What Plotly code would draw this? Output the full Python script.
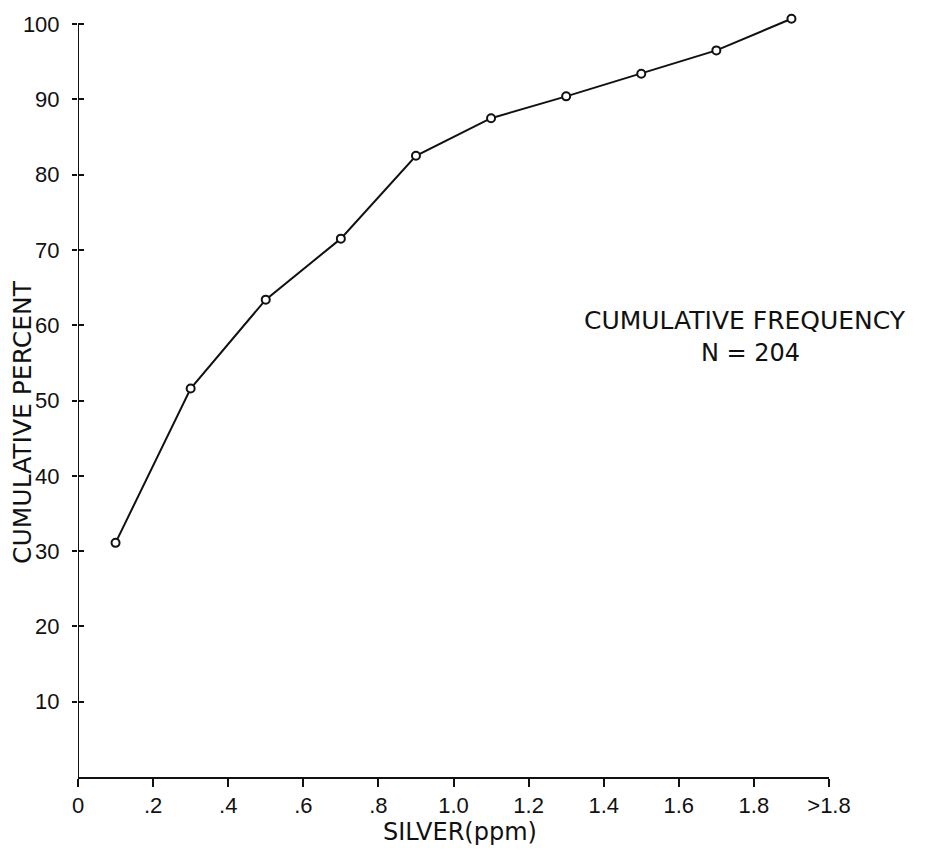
import plotly.graph_objects as go

# Data
silver_ppm = [0.1, 0.3, 0.5, 0.7, 0.9, 1.1, 1.3, 1.5, 1.7, 1.9]
cumulative_percent = [31.1, 51.6, 63.4, 71.5, 82.5, 87.5, 90.4, 93.4, 96.5, 100.7]
x_tick_vals = [0, 0.2, 0.4, 0.6, 0.8, 1.0, 1.2, 1.4, 1.6, 1.8, 2.0]
x_tick_text = ['0', '.2', '.4', '.6', '.8', '1.0', '1.2', '1.4', '1.6', '1.8', '>1.8']
y_tick_vals = [10, 20, 30, 40, 50, 60, 70, 80, 90, 100]
y_axis_top = 100
y_range_top = 102

INK = '#111111'
FONT = 'Liberation Sans'
TFONT = 'DejaVu Sans'

fig = go.Figure()
fig.add_trace(go.Scatter(
    x=silver_ppm, y=cumulative_percent, mode='lines+markers',
    line=dict(color=INK, width=2),
    marker=dict(symbol='circle', size=8, color='white', line=dict(color=INK, width=2)),
    cliponaxis=False, showlegend=False, hoverinfo='skip'))
# invisible trace for inside tick marks on an overlaid axis
fig.add_trace(go.Scatter(x=[0], y=[0], yaxis='y2', mode='markers',
                         marker=dict(opacity=0), showlegend=False, hoverinfo='skip'))

# y axis line only up to 100
fig.add_shape(type='line', xref='x', yref='y', x0=0, x1=0, y0=0, y1=y_axis_top,
              line=dict(color=INK, width=2), layer='above')

fig.update_layout(
    width=951, height=859,
    margin=dict(l=78, r=122, t=9, b=82),
    paper_bgcolor='white', plot_bgcolor='white',
    font=dict(family=FONT, color=INK, size=22),
    xaxis=dict(range=[0, 2.0], tickvals=x_tick_vals, ticktext=x_tick_text,
               showgrid=False, zeroline=False, showline=True, linecolor=INK, linewidth=2,
               ticks='outside', ticklen=8, tickwidth=2, tickcolor=INK,
               tickfont=dict(family=FONT, size=22, color=INK), ticklabelstandoff=0),
    yaxis=dict(range=[0, y_range_top], tickvals=y_tick_vals,
               showgrid=False, zeroline=False, showline=False,
               ticks='outside', ticklen=5, tickwidth=2, tickcolor=INK,
               tickfont=dict(family=FONT, size=22, color=INK), ticklabelstandoff=8),
    yaxis2=dict(range=[0, y_range_top], overlaying='y', side='left', anchor='x',
                tickvals=y_tick_vals,
                showgrid=False, zeroline=False, showline=False, showticklabels=False,
                ticks='inside', ticklen=6, tickwidth=2, tickcolor=INK),
    annotations=[
        dict(text='CUMULATIVE PERCENT', xref='paper', yref='paper', x=-0.0746, y=(777 - 422) / 768,
             textangle=-90, showarrow=False, xanchor='center', yanchor='middle',
             font=dict(family=TFONT, size=25, color=INK)),
        dict(text='SILVER(ppm)', xref='paper', yref='paper', x=0.509, y=(777 - 832) / 768,
             showarrow=False, xanchor='center', yanchor='middle',
             font=dict(family=TFONT, size=24, color=INK)),
        dict(text='CUMULATIVE FREQUENCY', xref='paper', yref='paper', x=0.888, y=(777 - 320) / 768,
             showarrow=False, xanchor='center', yanchor='middle',
             font=dict(family=TFONT, size=25, color=INK)),
        dict(text='N = 204', xref='paper', yref='paper', x=0.895, y=(777 - 353) / 768,
             showarrow=False, xanchor='center', yanchor='middle',
             font=dict(family=TFONT, size=24, color=INK)),
    ],
)

fig.write_html('out.html', config={'displayModeBar': False},
               post_script="document.body.style.margin='0';")
